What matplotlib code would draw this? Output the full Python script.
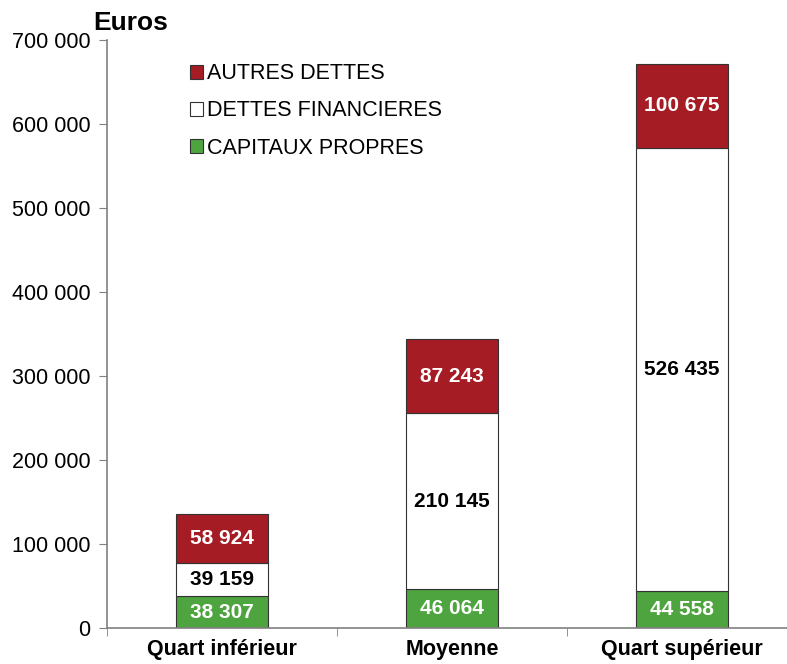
import matplotlib.pyplot as plt
import numpy as np

plt.rcParams['font.family'] = ['Liberation Sans', 'DejaVu Sans']

categories = ["Quart inférieur", "Moyenne", "Quart supérieur"]
capitaux = [38307, 46064, 44558]
dettes_fin = [39159, 210145, 526435]
autres = [58924, 87243, 100675]
yticks = [0, 100000, 200000, 300000, 400000, 500000, 600000, 700000]

red = "#A51C24"
green = "#4EA43F"

fig = plt.figure(figsize=(7.87, 6.64), dpi=100)
ax = fig.add_axes([0.136, 0.054, 0.877, 0.886])

x = np.arange(len(categories))
w = 0.4
cap = np.array(capitaux)
fin = np.array(dettes_fin)
aut = np.array(autres)

b1 = ax.bar(x, cap, w, color=green, edgecolor="#333333", linewidth=0.8, label="CAPITAUX PROPRES")
b2 = ax.bar(x, fin, w, bottom=cap, color="white", edgecolor="#333333", linewidth=0.8, label="DETTES FINANCIERES")
b3 = ax.bar(x, aut, w, bottom=cap + fin, color=red, edgecolor="#333333", linewidth=0.8, label="AUTRES DETTES")

def fmt(v):
    return f"{v:,}".replace(",", " ")

lab_font = dict(fontsize=15, fontweight="bold", ha="center", va="center")
for i in range(len(categories)):
    ax.text(x[i], cap[i] / 2, fmt(cap[i]), color="white", **lab_font)
    ax.text(x[i], cap[i] + fin[i] / 2, fmt(fin[i]), color="black", **lab_font)
    ax.text(x[i], cap[i] + fin[i] + aut[i] / 2, fmt(aut[i]), color="white", **lab_font)

ax.set_xlim(-0.5, 2.5)
ax.set_ylim(0, 700000)
ax.set_yticks(yticks)
ax.set_yticklabels([fmt(v) for v in yticks], fontsize=15.5)
ax.set_xticks(x)
ax.set_xticklabels(categories, fontsize=15.5, fontweight="bold")
ax.tick_params(axis="x", which="major", length=0, pad=8)
ax.set_xticks([-0.5, 0.5, 1.5, 2.5], minor=True)
ax.tick_params(axis="x", which="minor", length=6, color="#808080")
ax.tick_params(axis="y", length=6, color="#808080", pad=6)

for s in ["top", "right"]:
    ax.spines[s].set_visible(False)
for s in ["left", "bottom"]:
    ax.spines[s].set_color("#808080")
    ax.spines[s].set_linewidth(1.2)

fig.text(0.119, 0.947, "Euros", fontsize=19, fontweight="bold", ha="left", va="bottom")

leg = ax.legend(handles=[b3, b2, b1], loc="upper left", bbox_to_anchor=(0.092, 0.993),
                frameon=False, fontsize=15.5, handlelength=0.6, handleheight=0.6,
                handletextpad=0.2, labelspacing=0.75)

fig.savefig("out.png", dpi=100)
